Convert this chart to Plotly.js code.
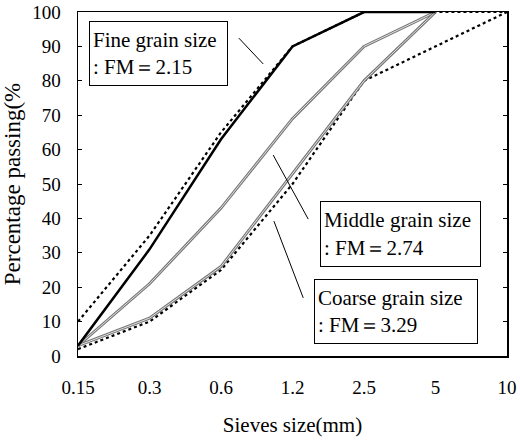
<!DOCTYPE html>
<html>
<head>
<meta charset="utf-8">
<script src="https://cdn.plot.ly/plotly-3.0.1.min.js"></script>
<style>html,body{margin:0;padding:0;background:#fff;}#chart{width:520px;height:445px;}</style>
</head>
<body>
<div id="chart"></div>
<script>
// Sieve sizes (mm), equally spaced categories
const sieves = ["0.15", "0.3", "0.6", "1.2", "2.5", "5", "10"];
// Percentage passing for each sand (up to 5 mm)
const fineSieves = ["0.15", "0.3", "0.6", "1.2", "2.5", "5"];
const fine = [3, 31, 63, 90, 100, 100];
const middle = [3, 21, 43, 69, 90, 100];
const coarse = [3, 11, 26, 53, 80, 100];
// Grading limits (dotted)
const upperLimit = [10, 35, 65, 90, 100, 100, 100];
const lowerLimit = [2, 10, 25, 50, 80, 90, 100];

const SERIF = "Liberation Serif";

const traces = [
  {x: sieves, y: upperLimit, mode: "lines", line: {color: "#000", width: 2.2, dash: "dot"}},
  {x: sieves, y: lowerLimit, mode: "lines", line: {color: "#000", width: 2.2, dash: "dot"}},
  {x: fineSieves, y: middle, mode: "lines", line: {color: "#777", width: 3}},
  {x: fineSieves, y: middle, mode: "lines", line: {color: "#e0e0e0", width: 1}},
  {x: fineSieves, y: coarse, mode: "lines", line: {color: "#777", width: 3}},
  {x: fineSieves, y: coarse, mode: "lines", line: {color: "#e0e0e0", width: 1}},
  {x: fineSieves, y: fine, mode: "lines", line: {color: "#000", width: 2.5}}
];

const boxFont = {family: SERIF, size: 21, color: "#000"};
const layout = {
  width: 520, height: 445,
  margin: {l: 78, r: 13, t: 12, b: 89},
  paper_bgcolor: "#fff", plot_bgcolor: "#fff",
  showlegend: false,
  font: {family: SERIF, size: 18, color: "#000"},
  xaxis: {
    type: "category", categoryorder: "array", categoryarray: sieves,
    range: [0, 6], showgrid: false, zeroline: false,
    showline: true, linecolor: "#000", linewidth: 1.5, mirror: true,
    ticks: "", tickfont: {family: SERIF, size: 19, color: "#000"}, ticklabelstandoff: 14,
    title: {text: "Sieves size(mm)", font: {family: SERIF, size: 21, color: "#000"}, standoff: 20}
  },
  yaxis: {
    range: [0, 100], dtick: 10, showgrid: false, zeroline: false,
    showline: true, linecolor: "#000", linewidth: 1.5, mirror: "ticks",
    ticks: "inside", ticklen: 4, tickcolor: "#000",
    tickfont: {family: SERIF, size: 19, color: "#000"}, ticklabelstandoff: 12,
    title: {text: "Percentage passing(%", font: {family: SERIF, size: 23, color: "#000"}, standoff: 10}
  },
  annotations: [
    {xref: "paper", yref: "paper", x: 0.0256, y: 0.974, xanchor: "left", yanchor: "top",
     text: "Fine grain size<br>: FM＝2.15", showarrow: false, align: "left",
     font: boxFont, bordercolor: "#000", borderwidth: 1, borderpad: 3, bgcolor: "#fff", width: 131, height: 57},
    {xref: "paper", yref: "paper", x: 0.564, y: 0.4506, xanchor: "left", yanchor: "top",
     text: "Middle grain size<br>: FM＝2.74", showarrow: false, align: "left",
     font: boxFont, bordercolor: "#000", borderwidth: 1, borderpad: 3, bgcolor: "#fff", width: 153, height: 58},
    {xref: "paper", yref: "paper", x: 0.550, y: 0.224, xanchor: "left", yanchor: "top",
     text: "Coarse grain size<br>: FM＝3.29", showarrow: false, align: "left",
     font: boxFont, bordercolor: "#000", borderwidth: 1, borderpad: 3, bgcolor: "#fff", width: 156, height: 57}
  ],
  shapes: [
    {type: "line", xref: "x", yref: "y", x0: 2.25, y0: 92.4, x1: 2.59, y1: 84.9, line: {color: "#000", width: 1}},
    {type: "line", xref: "x", yref: "y", x0: 2.73, y0: 58.4, x1: 3.22, y1: 39.8, line: {color: "#000", width: 1}},
    {type: "line", xref: "x", yref: "y", x0: 2.74, y0: 39.2, x1: 3.15, y1: 16.9, line: {color: "#000", width: 1}}
  ]
};

Plotly.newPlot("chart", traces, layout, {displayModeBar: false, staticPlot: true});
</script>
</body>
</html>
